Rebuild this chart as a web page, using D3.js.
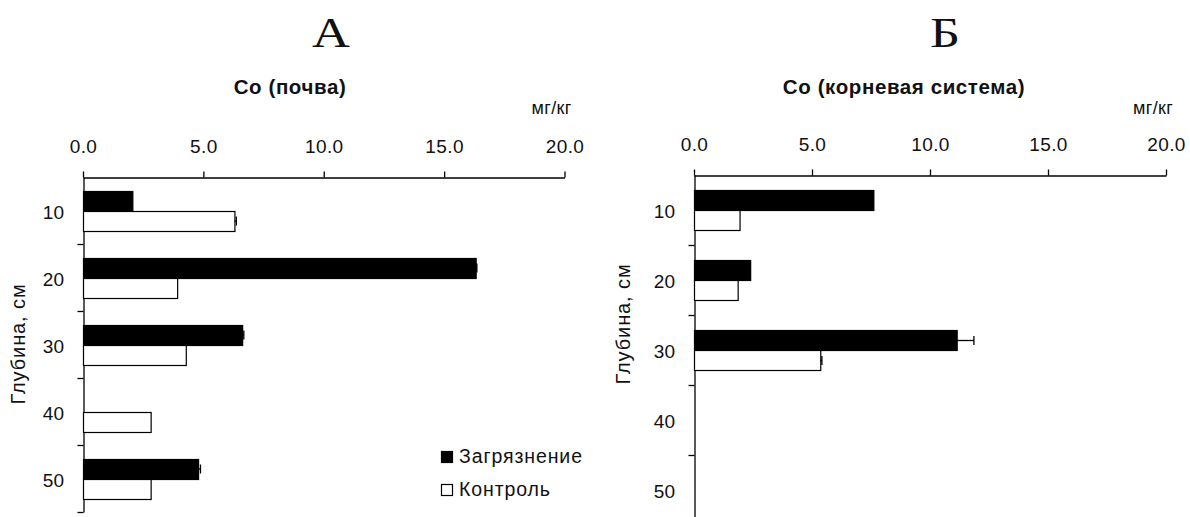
<!DOCTYPE html>
<html>
<head>
<meta charset="utf-8">
<script src="https://cdn.jsdelivr.net/npm/d3@7/dist/d3.min.js"></script>
<style>
  html, body { margin: 0; padding: 0; background: #fff; }
  svg { display: block; }
  text { font-family: "Liberation Sans", Arial, sans-serif; fill: #111; }
</style>
</head>
<body>
<svg id="chart" width="1190" height="517"></svg>
<script>
// ---- data ----
const depths = ["10", "20", "30", "40", "50"];
const xTicks = [0, 5, 10, 15, 20];
const seriesNames = ["Загрязнение", "Контроль"];

const soilPolluted      = [2.05, 16.31, 6.61, null, 4.78];
const soilPollutedErr   = [0, 0.05, 0.07, 0, 0.10];
const soilControl       = [6.29, 3.91, 4.27, 2.81, 2.81];
const soilControlErr    = [0.08, 0, 0, 0, 0];

const rootPolluted      = [7.60, 2.38, 11.13, null, null];
const rootPollutedErr   = [0, 0, 0.73, 0, 0];
const rootControl       = [1.93, 1.85, 5.35, null, null];
const rootControlErr    = [0, 0, 0.07, 0, 0];

const panelLetters = ["А", "Б"];
const panelTitles = ["Co (почва)", "Co (корневая система)"];
const unitLabel = "мг/кг";
const yTitle = "Глубина, см";

// ---- layout ----
const svg = d3.select("#chart");

const panels = [
  { letter: panelLetters[0], title: panelTitles[0],
    polluted: soilPolluted, pollutedErr: soilPollutedErr,
    control: soilControl, controlErr: soilControlErr,
    x0: 83, x1: 564.5, y0: 177, y1: 512,
    letterX: 331, titleX: 290, yTitleX: 25, yTitleY: 344, legend: true },
  { letter: panelLetters[1], title: panelTitles[1],
    polluted: rootPolluted, pollutedErr: rootPollutedErr,
    control: rootControl, controlErr: rootControlErr,
    x0: 694, x1: 1166, y0: 175, y1: 525,
    letterX: 945, titleX: 904, yTitleX: 630, yTitleY: 324, legend: false }
];

panels.forEach(p => {
  const g = svg.append("g");

  const x = d3.scaleLinear().domain([0, 20]).range([p.x0, p.x1]);
  const pad = 1 - 40 / ((p.y1 - p.y0) / depths.length);
  const y = d3.scaleBand().domain(depths).range([p.y0, p.y1])
    .paddingInner(pad).paddingOuter(pad / 2);
  const ySub = d3.scaleBand().domain(seriesNames).range([0, y.bandwidth()]);
  const yLin = d3.scaleLinear().domain([0, depths.length]).range([p.y0, p.y1]);

  // panel letter
  g.append("text")
    .attr("transform", `translate(${p.letterX},47) scale(1.22,1)`)
    .attr("text-anchor", "middle")
    .style("font-family", "'Liberation Serif', 'Times New Roman', serif")
    .style("font-size", "43px").text(p.letter);

  // title
  g.append("text").attr("x", p.titleX).attr("y", 94)
    .attr("text-anchor", "middle")
    .style("font-size", "20.5px").style("font-weight", "bold")
    .style("letter-spacing", "0.6px").text(p.title);

  // unit
  g.append("text").attr("x", p.x1 + 7).attr("y", 114)
    .attr("text-anchor", "end")
    .style("font-size", "18px").style("letter-spacing", "0.3px").text(unitLabel);

  // x axis (top)
  const xAxis = g.append("g").attr("transform", `translate(0,${p.y0 + 0.5})`)
    .call(d3.axisTop(x).tickValues(xTicks).tickFormat(d3.format(".1f"))
      .tickSize(6).tickSizeOuter(0).tickPadding(19));
  xAxis.selectAll("text").style("font-size", "19px")
    .style("font-family", "'Liberation Sans', Arial, sans-serif")
    .style("letter-spacing", "0.4px").attr("fill", "#111");
  xAxis.selectAll("line,path").attr("stroke", "#000").attr("stroke-width", 1.3);

  // y axis line + ticks at band boundaries
  const yAxis = g.append("g").attr("transform", `translate(${p.x0 + 0.5},0)`)
    .call(d3.axisLeft(yLin).tickValues(d3.range(1, depths.length + 1))
      .tickFormat("").tickSize(6).tickSizeOuter(0));
  yAxis.selectAll("line,path").attr("stroke", "#000").attr("stroke-width", 1.3);

  // category labels
  const yLab = g.append("g").attr("transform", `translate(${p.x0 - 19},2)`)
    .call(d3.axisLeft(y).tickSize(0).tickPadding(0));
  yLab.select("path").remove();
  yLab.selectAll("text").style("font-size", "19px")
    .style("font-family", "'Liberation Sans', Arial, sans-serif").attr("fill", "#111");

  // y title
  g.append("text")
    .attr("transform", `translate(${p.yTitleX},${p.yTitleY}) rotate(-90)`)
    .attr("text-anchor", "middle")
    .style("font-size", "20px").style("letter-spacing", "0.9px").text(yTitle);

  // bars
  const rows = depths.map((d, i) => ([
    { depth: d, s: seriesNames[0], v: p.polluted[i], e: p.pollutedErr[i], fill: "#000" },
    { depth: d, s: seriesNames[1], v: p.control[i], e: p.controlErr[i], fill: "#fff" }
  ])).flat().filter(r => r.v != null);

  g.append("g").selectAll("rect").data(rows).join("rect")
    .attr("x", x(0) + 0.5)
    .attr("y", r => Math.round(y(r.depth) + ySub(r.s)) + 0.5)
    .attr("width", r => x(r.v) - x(0))
    .attr("height", ySub.bandwidth())
    .attr("fill", r => r.fill)
    .attr("stroke", "#000").attr("stroke-width", 1.2);

  // error bars (plus side)
  const errs = rows.filter(r => r.e > 0);
  const eg = g.append("g").attr("stroke", "#000").attr("stroke-width", 1.3);
  eg.selectAll("line.h").data(errs).join("line").attr("class", "h")
    .attr("x1", r => x(r.v)).attr("x2", r => x(r.v + r.e))
    .attr("y1", r => y(r.depth) + ySub(r.s) + ySub.bandwidth() / 2 + 0.5)
    .attr("y2", r => y(r.depth) + ySub(r.s) + ySub.bandwidth() / 2 + 0.5);
  eg.selectAll("line.c").data(errs).join("line").attr("class", "c")
    .attr("x1", r => x(r.v + r.e)).attr("x2", r => x(r.v + r.e))
    .attr("y1", r => y(r.depth) + ySub(r.s) + ySub.bandwidth() / 2 - 4)
    .attr("y2", r => y(r.depth) + ySub(r.s) + ySub.bandwidth() / 2 + 5);

  // legend
  if (p.legend) {
    const lg = g.append("g");
    const items = [{ name: seriesNames[0], fill: "#000", yy: 451 },
                   { name: seriesNames[1], fill: "#fff", yy: 484 }];
    items.forEach(it => {
      lg.append("rect").attr("x", 441.5).attr("y", it.yy + 0.5)
        .attr("width", 11).attr("height", 11)
        .attr("fill", it.fill).attr("stroke", "#000").attr("stroke-width", 1.2);
      lg.append("text").attr("x", 459).attr("y", it.yy + 11.5)
        .style("font-size", "19.5px").style("letter-spacing", "0.9px").text(it.name);
    });
  }
});
</script>
</body>
</html>
